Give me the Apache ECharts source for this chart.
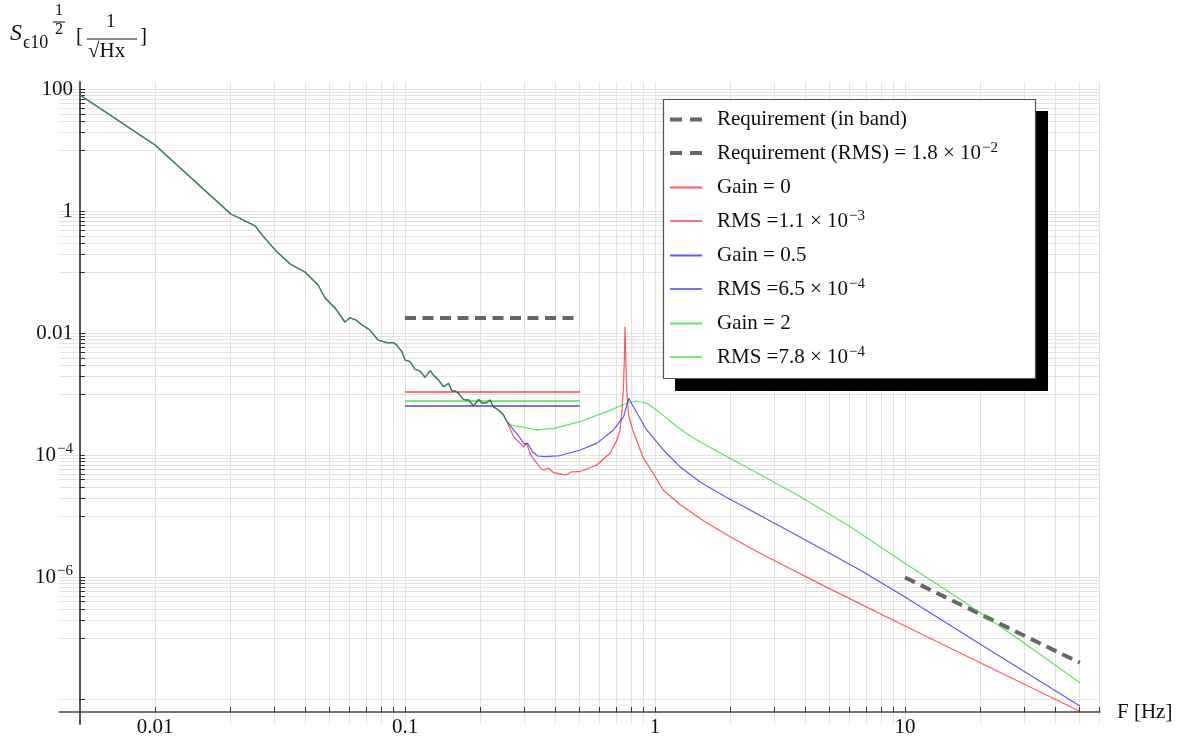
<!DOCTYPE html>
<html>
<head>
<meta charset="UTF-8">
<title>S_eps10 spectrum</title>
<style>
html,body{margin:0;padding:0;background:#fff;}
#chart{width:1178px;height:741px;}
</style>
</head>
<body>
<div id="chart"></div>
<script src="https://cdn.jsdelivr.net/npm/echarts@6/dist/echarts.min.js"></script>
<script>
// common low-frequency part (all three gains overlap)
var commonF = [0.00501,0.01,0.0201,0.0251,0.0268,0.0302,0.0347,0.0398,0.0449,0.0479,0.0525,0.0575,0.0602,0.0637,0.0673,0.0724,0.0779,0.0846,0.0899,0.0926,0.0972,0.1,0.1047,0.1096,0.1148,0.1202,0.1259,0.1298,0.136,0.1426,0.1494,0.154,0.1585,0.1634,0.1712,0.1795,0.188,0.197,0.2031,0.2128,0.2188,0.2256,0.2365,0.2478,0.2557];
var commonS = [81.3,12.3,0.91,0.585,0.412,0.234,0.138,0.102,0.0624,0.0382,0.0262,0.0154,0.018,0.0166,0.0138,0.0114,0.00782,0.00707,0.00707,0.00647,0.00503,0.00368,0.00345,0.00259,0.00243,0.00191,0.00245,0.00209,0.00173,0.00134,0.00153,0.00114,0.00115,0.00105,0.000834,0.000813,0.000648,0.000834,0.000718,0.000734,0.000813,0.000631,0.000557,0.000461,0.000358];

// Gain = 0
var redF = [0.2722,0.2985,0.3062,0.318,0.3373,0.3477,0.3584,0.3745,0.3936,0.414,0.4405,0.4628,0.5012,0.5847,0.6607,0.7047,0.7244,0.7379,0.747,0.754,0.7586,0.7642,0.7709,0.7834,0.8147,0.8933,1.002,1.0805,1.259,1.585,2.0,2.512,3.162,5.012,10,20,50];
var redS = [2.01e-4,1.39e-4,1.58e-4,1.02e-4,7.45e-5,6.24e-5,5.78e-5,6.24e-5,5.22e-5,4.98e-5,4.79e-5,5.37e-5,5.42e-5,6.99e-5,1.09e-4,1.8e-4,2.62e-4,5.57e-4,1.19e-3,3.68e-3,0.0129,3.68e-3,1.19e-3,4.61e-4,2.62e-4,9.55e-5,4.49e-5,2.69e-5,1.57e-5,8.2e-6,4.64e-6,2.77e-6,1.69e-6,6.5e-7,1.6e-7,4e-8,6.4e-9];
// Gain = 0.5
var blueF = [0.2722,0.2858,0.2999,0.3093,0.3238,0.3392,0.3664,0.414,0.5012,0.5847,0.6821,0.749,0.7852,0.8478,0.9265,1.0805,1.259,1.514,1.905,2.399,3.802,6.607,10,19.95,50.1];
var blueS = [2.62e-4,2.03e-4,1.55e-4,1.58e-4,1.15e-4,9.8e-5,9.55e-5,9.9e-5,1.23e-4,1.58e-4,2.62e-4,4.33e-4,8.67e-4,4.92e-4,2.62e-4,1.23e-4,6.55e-5,3.68e-5,2.13e-5,1.28e-5,4.61e-6,1.33e-6,4.79e-7,8.13e-8,7.8e-9];
// Gain = 2
var greenF = [0.263,0.2722,0.2985,0.3373,0.3936,0.5012,0.6412,0.7709,0.8455,0.9274,1.0,1.0805,1.17,1.259,1.38,1.514,1.905,2.399,3.02,3.802,4.786,6.026,7.586,10,16.8,28.8,50.1];
var greenS = [3.28e-4,3.05e-4,2.9e-4,2.62e-4,2.79e-4,3.58e-4,5.23e-4,7.18e-4,7.82e-4,7.18e-4,5.8e-4,4.5e-4,3.45e-4,2.75e-4,2.1e-4,1.66e-4,1.0e-4,6.0e-5,3.58e-5,2.13e-5,1.21e-5,6.86e-6,3.65e-6,1.71e-6,4.28e-7,9.4e-8,1.88e-8];

// requirements and RMS levels
var reqBandF = [10, 50];
var reqBandS = [1e-6, 4e-8];
var rmsBandF = [0.1, 0.5];
var reqRms = 1.8e-2;
var rmsGain0 = 1.1e-3, rmsGain05 = 6.5e-4, rmsGain2 = 7.8e-4;

var legendNames = ['Requirement (in band)', 'Requirement (RMS) = 1.8 × 10^−2', 'Gain = 0', 'RMS =1.1 × 10^−3',
                   'Gain = 0.5', 'RMS =6.5 × 10^−4', 'Gain = 2', 'RMS =7.8 × 10^−4'];

// axis ticks / labels
var xLabelValues = [0.01, 0.1, 1, 10];
var yLabelValues = [1e-6, 1e-4, 0.01, 1, 100];
var xMinorDecades = [-2, -1, 0, 1];          // minor ticks 1..9 x 10^k
var yMajorDecades = [-8, -6, -4, -2, 0, 2];  // ticks every 2 decades
var yMinorDecades = [-7, -5, -3, -1, 1];     // minor ticks fill the decade below each major
var mults = [1, 2, 3, 4, 5, 6, 7, 8, 9];

var X_MIN = 0.00413, X_MAX = 60.26, Y_MIN = 3.96e-9, Y_MAX = 132.7;

function decadeTicks(decades, lo, hi){
	var out = [];
	for (var i = 0; i < decades.length; i++) {
		for (var j = 0; j < mults.length; j++) {
			var v = +(mults[j] * Math.pow(10, decades[i])).toPrecision(3);
			if (v > lo && v < hi) out.push(v);
		}
	}
	return out;
}
var xTicks = decadeTicks(xMinorDecades, X_MIN, X_MAX);
var yTicks = decadeTicks(yMinorDecades, Y_MIN, Y_MAX).concat(
	yMajorDecades.map(function(d){ return Math.pow(10, d); }));

function zip(f, s){
	var out = [];
	for (var i = 0; i < f.length; i++) out.push([f[i], s[i]]);
	return out;
}
function flat(f, v){
	return f.map(function(x){ return [x, v]; });
}
var commonPts = zip(commonF, commonS);

var SERIF = '"Liberation Serif", "Times New Roman", serif';
var dashStyle = {color: '#666', width: 4, type: [11, 6.5], cap: 'butt'};

function curve(name, color, pts, z){
	return {name: name, type: 'line', data: pts, symbol: 'none', silent: true, z: z,
		lineStyle: {color: color, width: 1.2, opacity: 0.65}, itemStyle: {color: color}};
}
function rmsLine(name, color, v){
	return {name: name, type: 'line', data: flat(rmsBandF, v), symbol: 'none', silent: true, z: 3,
		lineStyle: {color: color, width: 2, opacity: 0.55}, itemStyle: {color: color}};
}

function supFmt(s){
	var k = s.indexOf('^');
	if (k < 0) return '{t|' + s + '}';
	return '{t|' + s.slice(0, k) + '}{sup|' + s.slice(k + 1) + '}';
}

var legendData = legendNames.map(function(n, i){
	if (i < 2) return {name: n, lineStyle: {width: 4, type: [12, 8], color: '#666', opacity: 1}};
	return {name: n};
});

var chart = echarts.init(document.getElementById('chart'));
var option = {
	backgroundColor: '#fff',
	animation: false,
	grid: {left: 59, right: 78, top: 82, bottom: 17},
	xAxis: {
		type: 'log', logBase: 10, min: X_MIN, max: X_MAX, offset: -12,
		axisLine: {show: true, lineStyle: {color: '#444', width: 1.5}},
		axisTick: {show: true, inside: true, length: 5, customValues: xTicks, lineStyle: {color: '#333'}},
		axisLabel: {customValues: xLabelValues, fontFamily: SERIF, fontSize: 21, color: '#111', margin: 5,
			formatter: function(v){ return String(+v.toPrecision(3)); }},
		splitLine: {show: true, lineStyle: {color: '#e2e2e2', width: 1}},
		name: 'F [Hz]', nameLocation: 'end', nameGap: 17,
		nameTextStyle: {fontFamily: SERIF, fontSize: 21, color: '#111', verticalAlign: 'middle'}
	},
	yAxis: {
		type: 'log', logBase: 10, min: Y_MIN, max: Y_MAX, offset: -21,
		axisLine: {show: true, lineStyle: {color: '#555', width: 2}},
		axisTick: {show: true, inside: true, length: 5, customValues: yTicks, lineStyle: {color: '#333'}},
		axisLabel: {customValues: yLabelValues, fontFamily: SERIF, fontSize: 21, color: '#111', margin: 7,
			formatter: function(v){
				var e = Math.round(Math.log10(v));
				if (e >= -2) return '{t|' + String(+v.toPrecision(3)) + '}';
				return '{t|10}{sup|−' + (-e) + '}';
			},
			rich: {t: {fontFamily: SERIF, fontSize: 21, color: '#111'},
				sup: {fontFamily: SERIF, fontSize: 15, color: '#111', padding: [0, 0, 12, 1]}}
		},
		splitLine: {show: true, lineStyle: {color: '#e2e2e2', width: 1}}
	},
	legend: {
		orient: 'vertical', left: 663, top: 99, z: 10,
		data: legendData,
		padding: [10, 39, 9, 5], itemGap: 11, itemWidth: 32, itemHeight: 14,
		selectedMode: false,
		itemStyle: {opacity: 0},
		formatter: supFmt,
		textStyle: {fontFamily: SERIF, fontSize: 21, color: '#111', padding: [0, 0, 0, 10],
			rich: {t: {fontFamily: SERIF, fontSize: 21, color: '#111', lineHeight: 24},
				sup: {fontFamily: SERIF, fontSize: 15, color: '#111', verticalAlign: 'top', lineHeight: 24, padding: [0, 0, 10, 1]}}}
	},
	graphic: [
		// legend frame with its hard drop shadow
		{type: 'rect', z: 8, shape: {x: 675, y: 111, width: 373, height: 280}, style: {fill: '#000'}},
		{type: 'rect', z: 9, shape: {x: 663.5, y: 99.5, width: 372, height: 279}, style: {fill: '#fff', stroke: '#555', lineWidth: 1.2}},
		// y axis name
		{type: 'text', left: 10, top: 22, style: {text: 'S', font: 'italic 24px ' + SERIF, fill: '#111'}},
		{type: 'text', left: 23, top: 34, style: {text: 'ϵ10', font: '18px ' + SERIF, fill: '#111'}},
		{type: 'text', left: 55, top: 3, style: {text: '1', font: '16px ' + SERIF, fill: '#111'}},
		{type: 'line', shape: {x1: 53, y1: 22, x2: 65, y2: 22}, style: {stroke: '#111', lineWidth: 1}},
		{type: 'text', left: 55, top: 22, style: {text: '2', font: '16px ' + SERIF, fill: '#111'}},
		{type: 'text', left: 76, top: 26, style: {text: '[', font: '21px ' + SERIF, fill: '#111'}},
		{type: 'text', left: 106, top: 13, style: {text: '1', font: '19px ' + SERIF, fill: '#111'}},
		{type: 'line', shape: {x1: 87, y1: 39, x2: 137, y2: 39}, style: {stroke: '#111', lineWidth: 1}},
		{type: 'text', left: 88, top: 41, style: {text: '√Hx', font: '21px ' + SERIF, fill: '#111'}},
		{type: 'text', left: 140, top: 26, style: {text: ']', font: '21px ' + SERIF, fill: '#111'}}
	],
	series: [
		{name: legendNames[0], type: 'line', data: zip(reqBandF, reqBandS), symbol: 'none', silent: true, z: 2,
			lineStyle: dashStyle, itemStyle: {color: '#666'}},
		{name: legendNames[1], type: 'line', data: flat(rmsBandF, reqRms), symbol: 'none', silent: true, z: 2,
			lineStyle: dashStyle, itemStyle: {color: '#666'}},
		curve(legendNames[2], '#ff0000', commonPts.concat(zip(redF, redS)), 4),
		rmsLine(legendNames[3], '#ff0000', rmsGain0),
		curve(legendNames[4], '#0000ff', commonPts.concat(zip(blueF, blueS)), 5),
		rmsLine(legendNames[5], '#0000ff', rmsGain05),
		curve(legendNames[6], '#00dd00', commonPts.concat(zip(greenF, greenS)), 6),
		rmsLine(legendNames[7], '#00dd00', rmsGain2)
	]
};
chart.setOption(option);
window.addEventListener('resize', function(){ chart.resize(); });
</script>
</body>
</html>
